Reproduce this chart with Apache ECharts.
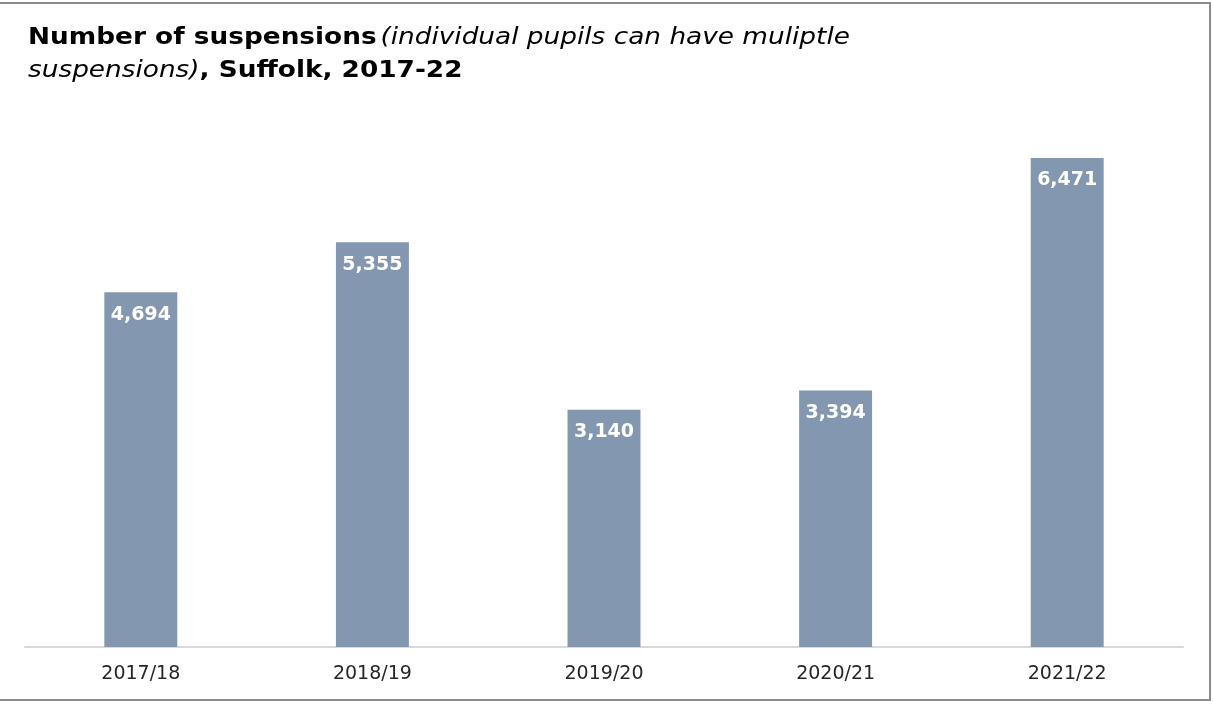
<!DOCTYPE html>
<html>
<head>
<meta charset="utf-8">
<script src="https://cdn.jsdelivr.net/npm/echarts@6/dist/echarts.min.js"></script>
<style>
  html, body { margin: 0; padding: 0; background: #ffffff; }
  #chart { width: 1213px; height: 707px; }
</style>
</head>
<body>
<div id="chart"></div>
<script>
// School years and number of suspensions in Suffolk
const years = ['2017/18', '2018/19', '2019/20', '2020/21', '2021/22'];
const suspensions = [4694, 5355, 3140, 3394, 6471];

const chart = echarts.init(document.getElementById('chart'), null, { renderer: 'canvas' });
const fontFamily = 'DejaVu Sans';

chart.setOption({
  backgroundColor: '#ffffff',
  animation: false,
  graphic: [
    {
      // outer frame
      type: 'rect',
      shape: { x: -2, y: 3, width: 1212, height: 697 },
      style: { fill: 'none', stroke: '#8c8c8c', lineWidth: 2 },
      silent: true
    },
    {
      // two-line title, widened slightly for a Verdana-like set
      type: 'text',
      x: 28,
      y: 22,
      scaleX: 1.145,
      silent: true,
      style: {
        text: '{b|Number of suspensions} {i|(individual pupils can have muliptle}\n{i|suspensions)}{b|, Suffolk, 2017-22}',
        rich: {
          b: { fontFamily: fontFamily, fontWeight: 'bold', fontSize: 23, fill: '#000000', lineHeight: 33 },
          i: { fontFamily: fontFamily, fontStyle: 'italic', fontWeight: 'normal', fontSize: 23, fill: '#000000', lineHeight: 33 }
        }
      }
    }
  ],
  grid: { left: 25, right: 30, top: 118, bottom: 60, containLabel: false },
  xAxis: {
    type: 'category',
    data: years,
    axisLine: { show: true, lineStyle: { color: '#d9d9d9', width: 2 } },
    axisTick: { show: false },
    axisLabel: { color: '#262626', fontFamily: fontFamily, fontSize: 19, margin: 18 }
  },
  yAxis: {
    type: 'value',
    min: 0,
    max: 7000,
    show: false,
    splitLine: { show: false }
  },
  series: [{
    type: 'bar',
    data: suspensions,
    barWidth: '31.5%',
    itemStyle: { color: '#8497b0' },
    label: {
      show: true,
      position: 'insideTop',
      distance: 13,
      color: '#ffffff',
      fontFamily: fontFamily,
      fontWeight: 'bold',
      fontSize: 19,
      formatter: p => p.value.toLocaleString('en-GB')
    }
  }]
});
</script>
</body>
</html>
